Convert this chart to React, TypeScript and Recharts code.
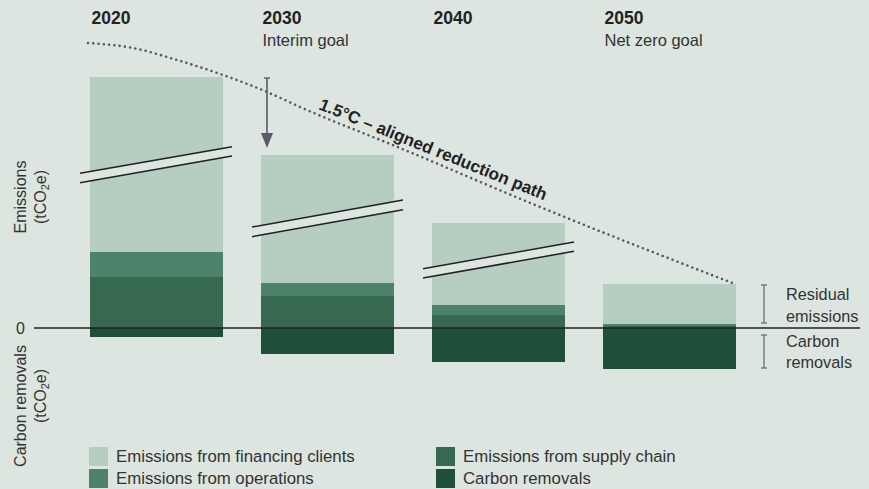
import React from 'react';
import { ComposedChart, Bar, Line, XAxis, YAxis, ReferenceLine, Legend } from 'recharts';

// ---------- data ----------
const years = ['2020', '2030', '2040', '2050'];
const yearNotes = ['', 'Interim goal', '', 'Net zero goal'];
const financing = [175, 128, 82, 40];
const operations = [25, 13, 10, 2];
const supplyChain = [51, 32, 13, 2];
const removals = [-9, -26, -34, -41];
const seriesNames = [
  'Emissions from financing clients',
  'Emissions from operations',
  'Emissions from supply chain',
  'Carbon removals',
];

// 1.5°C aligned reduction path (x on a continuous helper axis, y in chart units)
const pathX = [88, 133, 177, 223, 267, 300, 400, 540, 735];
const pathV = [285, 280, 268, 253, 236, 221, 180, 121, 44];

// axis-break marks
const breakX0 = [80, 252, 423];
const breakX1 = [232, 403, 574];
const breakTop0 = [154.7, 101, 59.3];
const breakTop1 = [181.3, 128, 86];
const breakBot0 = [145.3, 91.3, 50];
const breakBot1 = [172, 118.3, 76.7];

// interim arrow and right-hand brackets
const arrowX = 267;
const arrowFrom = 250;
const arrowTo = 180;
const bracketX = 764;
const residualRange = [43, 5];
const removalRange = [-7, -40];

// ---------- styles ----------
const BG = '#dce5df';
const C_FIN = '#b6cdc1';
const C_OPS = '#4c836a';
const C_SUP = '#366950';
const C_REM = '#1d4f3a';
const legendColors = [C_FIN, C_OPS, C_SUP, C_REM];
const FONT = '"Liberation Sans", Arial, sans-serif';

const data = years.map((y, i) => ({
  year: y,
  supply: supplyChain[i],
  operations: operations[i],
  financing: financing[i],
  removals: removals[i],
}));
const pathData = pathX.map((x, i) => ({ px: x, v: pathV[i] }));

const YearTick = (props: any) => {
  const { x, payload, index } = props;
  const note = yearNotes[index] || '';
  return (
    <g>
      <text x={x - 65} y={24} fontFamily={FONT} fontWeight={700} fontSize={17.5} fill="#222">
        {payload.value}
      </text>
      {note ? (
        <text x={x - 65} y={46} fontFamily={FONT} fontSize={16.5} fill="#333">
          {note}
        </text>
      ) : null}
    </g>
  );
};

const ArrowShape = (p: any) => {
  const { x1, y1, x2, y2 } = p;
  const head = 15;
  const col = '#5a5b64';
  return (
    <g>
      <line x1={x1 - 3} x2={x1 + 3} y1={y1} y2={y1} stroke={col} strokeWidth={1.4} />
      <line x1={x1} y1={y1} x2={x2} y2={y2 - head + 1} stroke={col} strokeWidth={1.6} />
      <polygon points={`${x2 - 6},${y2 - head} ${x2 + 6},${y2 - head} ${x2},${y2}`} fill={col} />
    </g>
  );
};

const BracketShape = (p: any) => {
  const { x1, y1, x2, y2 } = p;
  const col = '#666';
  return (
    <g>
      <line x1={x1 - 3} x2={x1 + 3} y1={y1} y2={y1} stroke={col} strokeWidth={1.2} />
      <line x1={x1} y1={y1} x2={x2} y2={y2} stroke={col} strokeWidth={1.2} />
      <line x1={x2 - 3} x2={x2 + 3} y1={y2} y2={y2} stroke={col} strokeWidth={1.2} />
    </g>
  );
};

const LegendContent = () => (
  <div
    style={{
      display: 'grid',
      gridTemplateColumns: '347px 320px',
      gridTemplateRows: '22px 22px',
      gridAutoFlow: 'column',
      fontFamily: FONT,
    }}
  >
    {seriesNames.map((n, i) => (
      <div key={n} style={{ display: 'flex', alignItems: 'center', height: 22 }}>
        <span style={{ width: 19, height: 19, background: legendColors[i], marginRight: 8, flex: 'none' }} />
        <span style={{ fontSize: 16.8, color: '#333', lineHeight: '19px', whiteSpace: 'nowrap' }}>{n}</span>
      </div>
    ))}
  </div>
);

const rotLabel = (left: number, top: number, content: React.ReactNode) => (
  <div
    style={{
      position: 'absolute',
      left,
      top,
      transform: 'translate(-50%, -50%) rotate(-90deg)',
      whiteSpace: 'nowrap',
      fontFamily: FONT,
      fontSize: 16,
      color: '#333',
      lineHeight: '18px',
    }}
  >
    {content}
  </div>
);

const tco2e = (
  <span>
    (tCO<sub style={{ fontSize: 11, verticalAlign: '-3px' }}>2</sub>e)
  </span>
);

export default function App() {
  return (
    <div
      style={{
        position: 'fixed',
        left: 0,
        top: 0,
        width: 869,
        height: 489,
        background: BG,
        fontFamily: FONT,
        overflow: 'hidden',
      }}
    >
      <ComposedChart
        width={869}
        height={489}
        data={data}
        stackOffset="sign"
        margin={{ top: 8, right: 9, bottom: 101, left: 8 }}
      >
        <XAxis
          xAxisId="cat"
          dataKey="year"
          orientation="top"
          height={22}
          axisLine={false}
          tickLine={false}
          padding={{ left: 37, right: 105 }}
          tick={<YearTick />}
          interval={0}
        />
        <XAxis xAxisId="num" dataKey="px" type="number" domain={[34, 860]} hide allowDataOverflow />
        <YAxis
          type="number"
          domain={[-60, 298]}
          allowDataOverflow
          ticks={[0]}
          width={26}
          axisLine={false}
          tickLine={false}
          tickMargin={3}
          tick={{ fill: '#333', fontSize: 16, fontFamily: FONT }}
        />
        <Bar xAxisId="cat" dataKey="supply" stackId="s" fill={C_SUP} barSize={133} isAnimationActive={false} name={seriesNames[2]} />
        <Bar xAxisId="cat" dataKey="operations" stackId="s" fill={C_OPS} barSize={133} isAnimationActive={false} name={seriesNames[1]} />
        <Bar xAxisId="cat" dataKey="financing" stackId="s" fill={C_FIN} barSize={133} isAnimationActive={false} name={seriesNames[0]} />
        <Bar xAxisId="cat" dataKey="removals" stackId="s" fill={C_REM} barSize={133} isAnimationActive={false} name={seriesNames[3]} />

        {breakX0.map((x0, i) => (
          <ReferenceLine
            key={'gap' + i}
            xAxisId="num"
            segment={[
              { x: x0, y: (breakTop0[i] + breakBot0[i]) / 2 },
              { x: breakX1[i], y: (breakTop1[i] + breakBot1[i]) / 2 },
            ]}
            stroke={BG}
            strokeWidth={8}
            ifOverflow="visible"
          />
        ))}
        {breakX0.map((x0, i) => (
          <ReferenceLine
            key={'bt' + i}
            xAxisId="num"
            segment={[
              { x: x0, y: breakTop0[i] },
              { x: breakX1[i], y: breakTop1[i] },
            ]}
            stroke="#222"
            strokeWidth={1.5}
            ifOverflow="visible"
          />
        ))}
        {breakX0.map((x0, i) => (
          <ReferenceLine
            key={'bb' + i}
            xAxisId="num"
            segment={[
              { x: x0, y: breakBot0[i] },
              { x: breakX1[i], y: breakBot1[i] },
            ]}
            stroke="#222"
            strokeWidth={1.5}
            ifOverflow="visible"
          />
        ))}

        <ReferenceLine xAxisId="cat" y={0} stroke="#222" strokeWidth={1.6} />

        <Line
          xAxisId="num"
          data={pathData}
          dataKey="v"
          type="monotone"
          stroke="#555860"
          strokeWidth={2.6}
          strokeDasharray="0 5.3"
          strokeLinecap="round"
          dot={false}
          activeDot={false}
          legendType="none"
          isAnimationActive={false}
        />

        <ReferenceLine
          xAxisId="num"
          segment={[
            { x: arrowX, y: arrowFrom },
            { x: arrowX, y: arrowTo },
          ]}
          shape={ArrowShape}
          ifOverflow="visible"
        />
        <ReferenceLine
          xAxisId="num"
          segment={[
            { x: bracketX, y: residualRange[0] },
            { x: bracketX, y: residualRange[1] },
          ]}
          shape={BracketShape}
          ifOverflow="visible"
        />
        <ReferenceLine
          xAxisId="num"
          segment={[
            { x: bracketX, y: removalRange[0] },
            { x: bracketX, y: removalRange[1] },
          ]}
          shape={BracketShape}
          ifOverflow="visible"
        />

        <Legend
          layout="vertical"
          align="center"
          verticalAlign="middle"
          content={<LegendContent />}
          wrapperStyle={{ left: 89, top: 445, width: 720 }}
        />
      </ComposedChart>

      {/* annotations */}
      <div
        style={{
          position: 'absolute',
          left: 433,
          top: 150,
          transform: 'translate(-50%, -50%) rotate(22deg)',
          whiteSpace: 'nowrap',
          fontFamily: FONT,
          fontWeight: 700,
          fontSize: 17,
          color: '#222',
        }}
      >
        1.5°C – aligned reduction path
      </div>

      <div
        style={{
          position: 'absolute',
          left: 786,
          top: 283,
          fontFamily: FONT,
          fontSize: 16.3,
          lineHeight: '22px',
          color: '#333',
        }}
      >
        Residual
        <br />
        emissions
      </div>
      <div
        style={{
          position: 'absolute',
          left: 786,
          top: 331,
          fontFamily: FONT,
          fontSize: 16.3,
          lineHeight: '21px',
          color: '#333',
        }}
      >
        Carbon
        <br />
        removals
      </div>

      {rotLabel(21, 196.5, 'Emissions')}
      {rotLabel(43, 196.5, tco2e)}
      {rotLabel(21, 406, 'Carbon removals')}
      {rotLabel(43, 395.5, tco2e)}
    </div>
  );
}
